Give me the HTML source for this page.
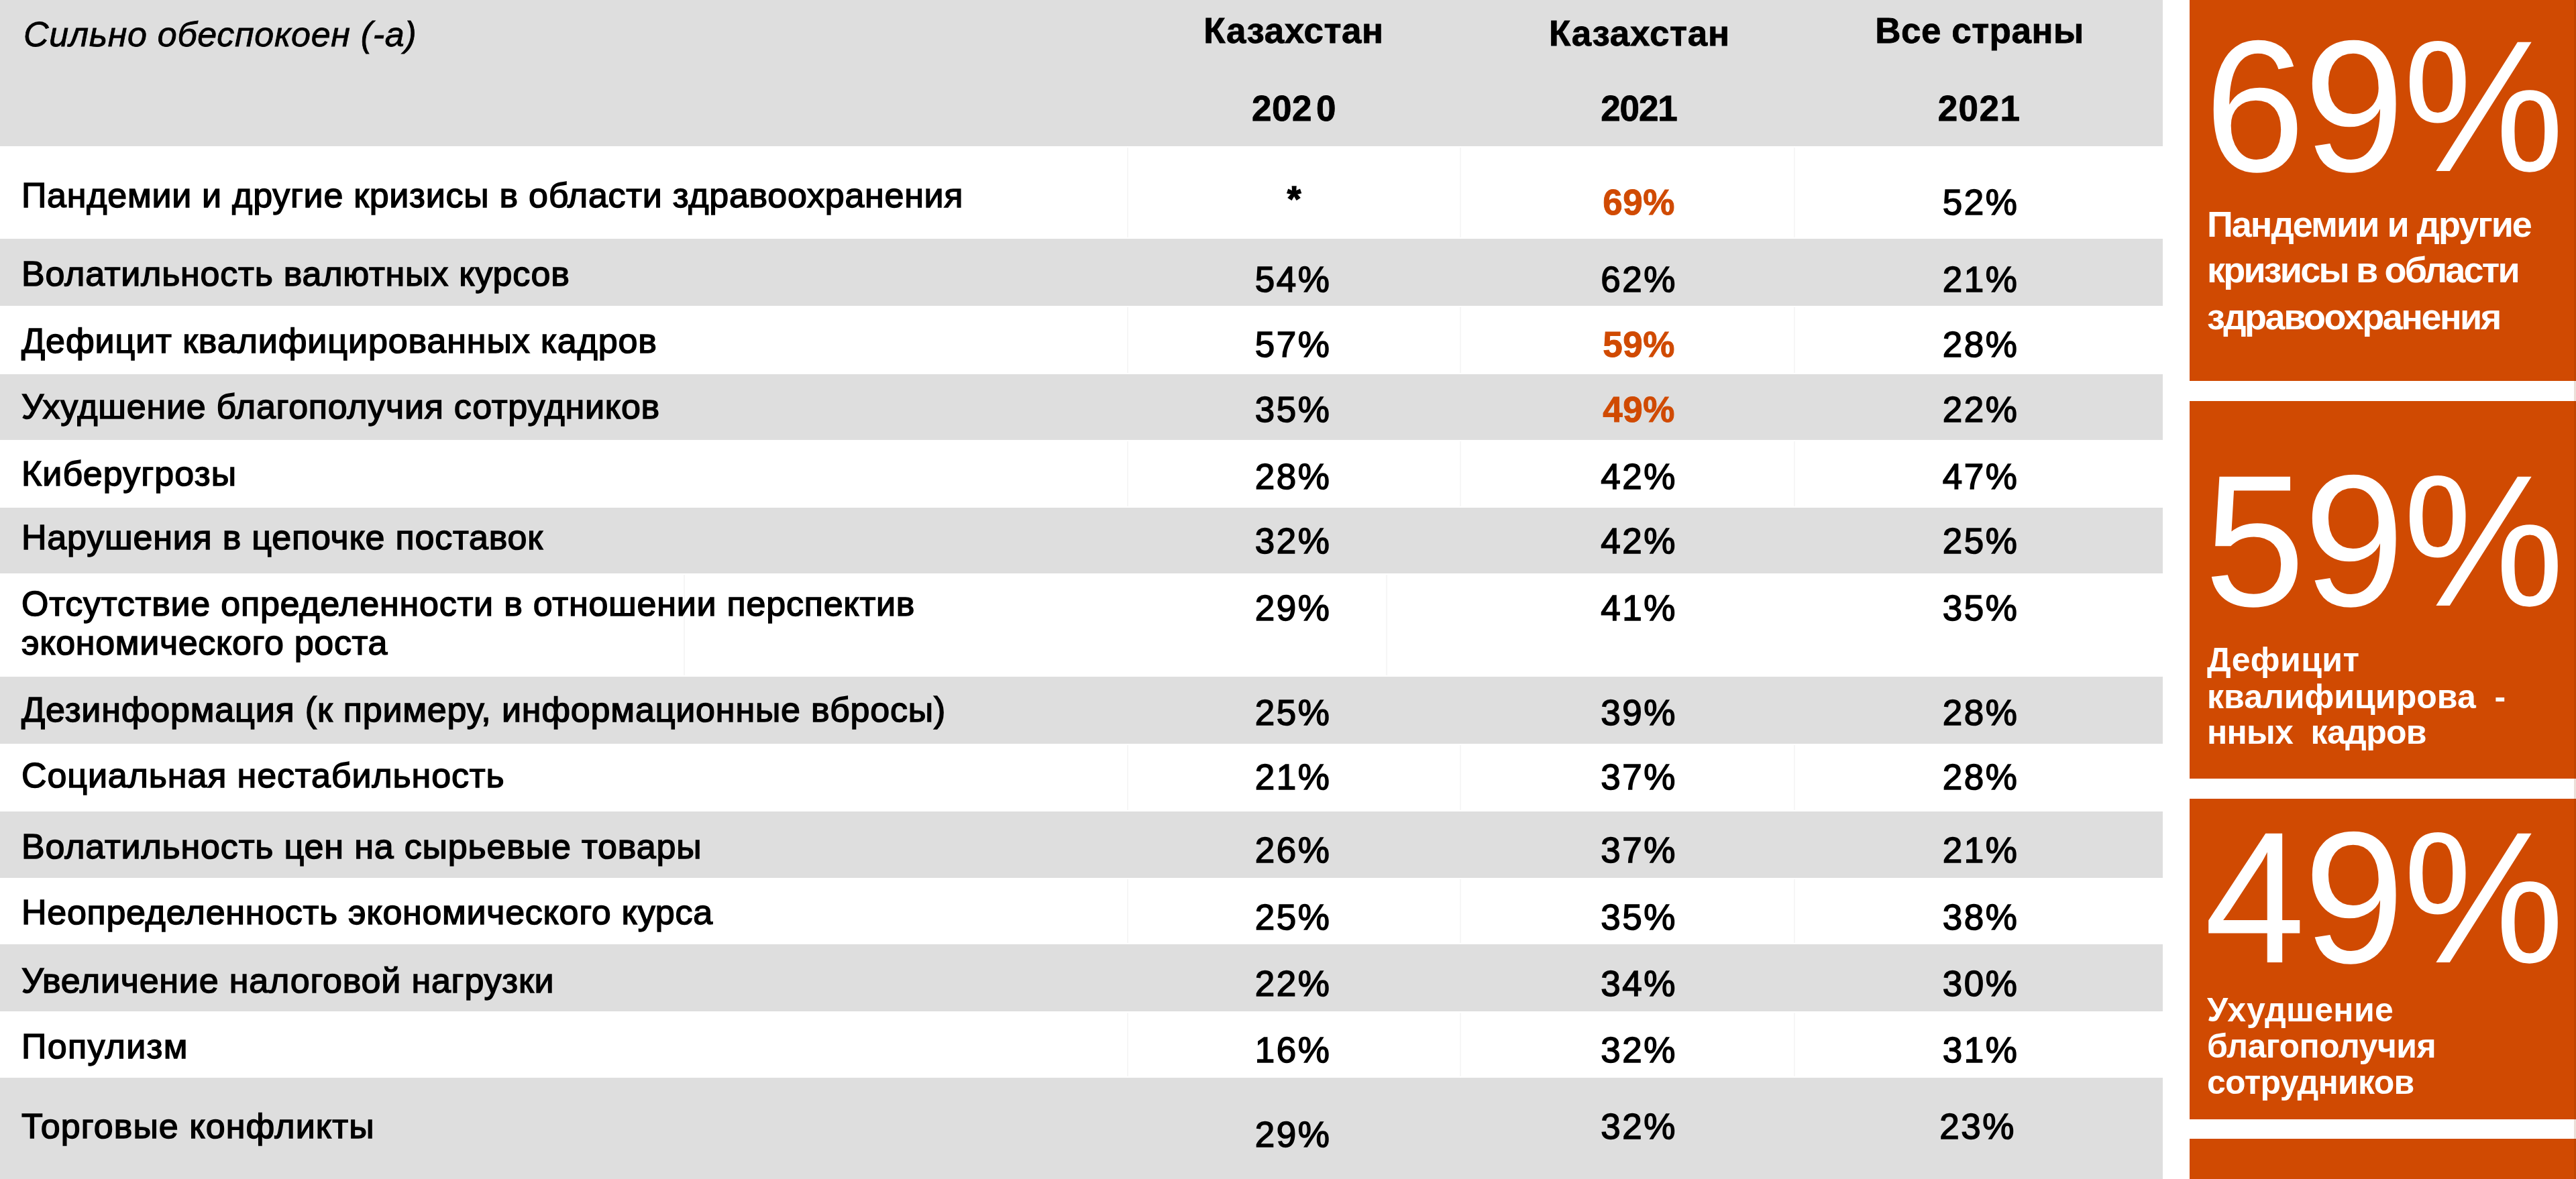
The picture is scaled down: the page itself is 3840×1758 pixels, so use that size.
<!DOCTYPE html>
<html lang="ru"><head><meta charset="utf-8"><title>Сильно обеспокоен (-а)</title>
<style>
html,body{margin:0;padding:0;background:#fff;}
body{width:3840px;height:1758px;overflow:hidden;position:relative;font-family:"Liberation Sans",Arial,"DejaVu Sans",sans-serif;color:#000;}
.t,.r{position:absolute;}
</style></head><body>
<div class="r" style="left:0px;top:0px;width:3224px;height:218px;background:#DEDEDE"></div>
<div class="r" style="left:0px;top:356px;width:3224px;height:100px;background:#DEDEDE"></div>
<div class="r" style="left:0px;top:558px;width:3224px;height:98px;background:#DEDEDE"></div>
<div class="r" style="left:0px;top:757px;width:3224px;height:98px;background:#DEDEDE"></div>
<div class="r" style="left:0px;top:1009px;width:3224px;height:100px;background:#DEDEDE"></div>
<div class="r" style="left:0px;top:1210px;width:3224px;height:99px;background:#DEDEDE"></div>
<div class="r" style="left:0px;top:1408px;width:3224px;height:100px;background:#DEDEDE"></div>
<div class="r" style="left:0px;top:1607px;width:3224px;height:151px;background:#DEDEDE"></div>
<div class="r" style="left:1680px;top:220px;width:2px;height:134px;background:#F6F6F6"></div>
<div class="r" style="left:2176px;top:220px;width:2px;height:134px;background:#F6F6F6"></div>
<div class="r" style="left:2674px;top:220px;width:2px;height:134px;background:#F6F6F6"></div>
<div class="r" style="left:1680px;top:458px;width:2px;height:98px;background:#F6F6F6"></div>
<div class="r" style="left:2176px;top:458px;width:2px;height:98px;background:#F6F6F6"></div>
<div class="r" style="left:2674px;top:458px;width:2px;height:98px;background:#F6F6F6"></div>
<div class="r" style="left:1680px;top:658px;width:2px;height:97px;background:#F6F6F6"></div>
<div class="r" style="left:2176px;top:658px;width:2px;height:97px;background:#F6F6F6"></div>
<div class="r" style="left:2674px;top:658px;width:2px;height:97px;background:#F6F6F6"></div>
<div class="r" style="left:1019px;top:857px;width:2px;height:150px;background:#F6F6F6"></div>
<div class="r" style="left:2066px;top:857px;width:2px;height:150px;background:#F6F6F6"></div>
<div class="r" style="left:1680px;top:1111px;width:2px;height:97px;background:#F6F6F6"></div>
<div class="r" style="left:2176px;top:1111px;width:2px;height:97px;background:#F6F6F6"></div>
<div class="r" style="left:2674px;top:1111px;width:2px;height:97px;background:#F6F6F6"></div>
<div class="r" style="left:1680px;top:1311px;width:2px;height:95px;background:#F6F6F6"></div>
<div class="r" style="left:2176px;top:1311px;width:2px;height:95px;background:#F6F6F6"></div>
<div class="r" style="left:2674px;top:1311px;width:2px;height:95px;background:#F6F6F6"></div>
<div class="r" style="left:1680px;top:1510px;width:2px;height:95px;background:#F6F6F6"></div>
<div class="r" style="left:2176px;top:1510px;width:2px;height:95px;background:#F6F6F6"></div>
<div class="r" style="left:2674px;top:1510px;width:2px;height:95px;background:#F6F6F6"></div>
<div class="t" style="left:35.00px;top:21.94px;font-size:52px;line-height:58.08px;font-weight:400;font-style:italic;color:#000;letter-spacing:0.670px;white-space:nowrap;-webkit-text-stroke:0.8px #000;">Сильно обеспокоен (-а)</div>
<div class="t" style="left:1328.50px;width:1200px;text-align:center;top:16.33px;font-size:53px;line-height:59.20px;font-weight:700;font-style:normal;color:#000;letter-spacing:0.550px;white-space:nowrap;-webkit-text-stroke:0.8px #000;">Казахстан</div>
<div class="t" style="left:1843.80px;width:1200px;text-align:center;top:20.13px;font-size:53px;line-height:59.20px;font-weight:700;font-style:normal;color:#000;letter-spacing:0.700px;white-space:nowrap;-webkit-text-stroke:0.8px #000;">Казахстан</div>
<div class="t" style="left:2351.00px;width:1200px;text-align:center;top:16.33px;font-size:53px;line-height:59.20px;font-weight:700;font-style:normal;color:#000;letter-spacing:0.500px;white-space:nowrap;-webkit-text-stroke:0.8px #000;">Все страны</div>
<div class="t" style="left:1329.00px;width:1200px;text-align:center;top:132.03px;font-size:53px;line-height:59.20px;font-weight:700;font-style:normal;color:#000;letter-spacing:0.500px;white-space:nowrap;-webkit-text-stroke:0.8px #000;">202<span style="margin-left:6px">0</span></div>
<div class="t" style="left:1843.00px;width:1200px;text-align:center;top:131.53px;font-size:53px;line-height:59.20px;font-weight:700;font-style:normal;color:#000;letter-spacing:-1.100px;white-space:nowrap;-webkit-text-stroke:0.8px #000;">2021</div>
<div class="t" style="left:2350.60px;width:1200px;text-align:center;top:132.34px;font-size:53px;line-height:59.20px;font-weight:700;font-style:normal;color:#000;letter-spacing:1.500px;white-space:nowrap;-webkit-text-stroke:0.8px #000;">2021</div>
<div class="t" style="left:32.00px;top:261.94px;font-size:52px;line-height:58.08px;font-weight:400;font-style:normal;color:#000;letter-spacing:0.728px;white-space:nowrap;-webkit-text-stroke:1.5px #000;">Пандемии и другие кризисы в области здравоохранения</div>
<div class="t" style="left:1329.00px;width:1200px;text-align:center;top:267.03px;font-size:53px;line-height:59.20px;font-weight:700;font-style:normal;color:#000;letter-spacing:0.000px;white-space:nowrap;-webkit-text-stroke:1.5px #000;">*</div>
<div class="t" style="left:1843.00px;width:1200px;text-align:center;top:272.03px;font-size:53px;line-height:59.20px;font-weight:700;font-style:normal;color:#D04A02;letter-spacing:0.500px;white-space:nowrap;-webkit-text-stroke:0.8999999999999999px #D04A02;">69%</div>
<div class="t" style="left:2352.50px;width:1200px;text-align:center;top:272.03px;font-size:53px;line-height:59.20px;font-weight:400;font-style:normal;color:#000;letter-spacing:2.500px;white-space:nowrap;-webkit-text-stroke:1.5px #000;">52%</div>
<div class="t" style="left:32.00px;top:378.94px;font-size:52px;line-height:58.08px;font-weight:400;font-style:normal;color:#000;letter-spacing:0.776px;white-space:nowrap;-webkit-text-stroke:1.5px #000;">Волатильность валютных курсов</div>
<div class="t" style="left:1327.50px;width:1200px;text-align:center;top:387.03px;font-size:53px;line-height:59.20px;font-weight:400;font-style:normal;color:#000;letter-spacing:2.500px;white-space:nowrap;-webkit-text-stroke:1.5px #000;">54%</div>
<div class="t" style="left:1843.00px;width:1200px;text-align:center;top:387.03px;font-size:53px;line-height:59.20px;font-weight:400;font-style:normal;color:#000;letter-spacing:2.500px;white-space:nowrap;-webkit-text-stroke:1.5px #000;">62%</div>
<div class="t" style="left:2352.50px;width:1200px;text-align:center;top:387.03px;font-size:53px;line-height:59.20px;font-weight:400;font-style:normal;color:#000;letter-spacing:2.500px;white-space:nowrap;-webkit-text-stroke:1.5px #000;">21%</div>
<div class="t" style="left:32.00px;top:479.44px;font-size:52px;line-height:58.08px;font-weight:400;font-style:normal;color:#000;letter-spacing:0.886px;white-space:nowrap;-webkit-text-stroke:1.5px #000;">Дефицит квалифицированных кадров</div>
<div class="t" style="left:1327.50px;width:1200px;text-align:center;top:484.03px;font-size:53px;line-height:59.20px;font-weight:400;font-style:normal;color:#000;letter-spacing:2.500px;white-space:nowrap;-webkit-text-stroke:1.5px #000;">57%</div>
<div class="t" style="left:1843.00px;width:1200px;text-align:center;top:484.03px;font-size:53px;line-height:59.20px;font-weight:700;font-style:normal;color:#D04A02;letter-spacing:0.500px;white-space:nowrap;-webkit-text-stroke:0.8999999999999999px #D04A02;">59%</div>
<div class="t" style="left:2352.50px;width:1200px;text-align:center;top:484.03px;font-size:53px;line-height:59.20px;font-weight:400;font-style:normal;color:#000;letter-spacing:2.500px;white-space:nowrap;-webkit-text-stroke:1.5px #000;">28%</div>
<div class="t" style="left:32.00px;top:576.94px;font-size:52px;line-height:58.08px;font-weight:400;font-style:normal;color:#000;letter-spacing:0.753px;white-space:nowrap;-webkit-text-stroke:1.5px #000;">Ухудшение благополучия сотрудников</div>
<div class="t" style="left:1327.50px;width:1200px;text-align:center;top:580.53px;font-size:53px;line-height:59.20px;font-weight:400;font-style:normal;color:#000;letter-spacing:2.500px;white-space:nowrap;-webkit-text-stroke:1.5px #000;">35%</div>
<div class="t" style="left:1843.00px;width:1200px;text-align:center;top:580.53px;font-size:53px;line-height:59.20px;font-weight:700;font-style:normal;color:#D04A02;letter-spacing:0.500px;white-space:nowrap;-webkit-text-stroke:0.8999999999999999px #D04A02;">49%</div>
<div class="t" style="left:2352.50px;width:1200px;text-align:center;top:580.53px;font-size:53px;line-height:59.20px;font-weight:400;font-style:normal;color:#000;letter-spacing:2.500px;white-space:nowrap;-webkit-text-stroke:1.5px #000;">22%</div>
<div class="t" style="left:32.00px;top:676.94px;font-size:52px;line-height:58.08px;font-weight:400;font-style:normal;color:#000;letter-spacing:1.080px;white-space:nowrap;-webkit-text-stroke:1.5px #000;">Киберугрозы</div>
<div class="t" style="left:1327.50px;width:1200px;text-align:center;top:681.03px;font-size:53px;line-height:59.20px;font-weight:400;font-style:normal;color:#000;letter-spacing:2.500px;white-space:nowrap;-webkit-text-stroke:1.5px #000;">28%</div>
<div class="t" style="left:1843.00px;width:1200px;text-align:center;top:681.03px;font-size:53px;line-height:59.20px;font-weight:400;font-style:normal;color:#000;letter-spacing:2.500px;white-space:nowrap;-webkit-text-stroke:1.5px #000;">42%</div>
<div class="t" style="left:2352.50px;width:1200px;text-align:center;top:681.03px;font-size:53px;line-height:59.20px;font-weight:400;font-style:normal;color:#000;letter-spacing:2.500px;white-space:nowrap;-webkit-text-stroke:1.5px #000;">47%</div>
<div class="t" style="left:32.00px;top:771.94px;font-size:52px;line-height:58.08px;font-weight:400;font-style:normal;color:#000;letter-spacing:0.787px;white-space:nowrap;-webkit-text-stroke:1.5px #000;">Нарушения в цепочке поставок</div>
<div class="t" style="left:1327.50px;width:1200px;text-align:center;top:776.83px;font-size:53px;line-height:59.20px;font-weight:400;font-style:normal;color:#000;letter-spacing:2.500px;white-space:nowrap;-webkit-text-stroke:1.5px #000;">32%</div>
<div class="t" style="left:1843.00px;width:1200px;text-align:center;top:776.83px;font-size:53px;line-height:59.20px;font-weight:400;font-style:normal;color:#000;letter-spacing:2.500px;white-space:nowrap;-webkit-text-stroke:1.5px #000;">42%</div>
<div class="t" style="left:2352.50px;width:1200px;text-align:center;top:776.83px;font-size:53px;line-height:59.20px;font-weight:400;font-style:normal;color:#000;letter-spacing:2.500px;white-space:nowrap;-webkit-text-stroke:1.5px #000;">25%</div>
<div class="t" style="left:32.00px;top:870.94px;font-size:52px;line-height:58.08px;font-weight:400;font-style:normal;color:#000;letter-spacing:0.774px;white-space:nowrap;-webkit-text-stroke:1.5px #000;">Отсутствие определенности в отношении перспектив</div>
<div class="t" style="left:32.00px;top:928.94px;font-size:52px;line-height:58.08px;font-weight:400;font-style:normal;color:#000;letter-spacing:0.669px;white-space:nowrap;-webkit-text-stroke:1.5px #000;">экономического роста</div>
<div class="t" style="left:1327.50px;width:1200px;text-align:center;top:876.53px;font-size:53px;line-height:59.20px;font-weight:400;font-style:normal;color:#000;letter-spacing:2.500px;white-space:nowrap;-webkit-text-stroke:1.5px #000;">29%</div>
<div class="t" style="left:1843.00px;width:1200px;text-align:center;top:876.53px;font-size:53px;line-height:59.20px;font-weight:400;font-style:normal;color:#000;letter-spacing:2.500px;white-space:nowrap;-webkit-text-stroke:1.5px #000;">41%</div>
<div class="t" style="left:2352.50px;width:1200px;text-align:center;top:876.53px;font-size:53px;line-height:59.20px;font-weight:400;font-style:normal;color:#000;letter-spacing:2.500px;white-space:nowrap;-webkit-text-stroke:1.5px #000;">35%</div>
<div class="t" style="left:32.00px;top:1029.44px;font-size:52px;line-height:58.08px;font-weight:400;font-style:normal;color:#000;letter-spacing:0.816px;white-space:nowrap;-webkit-text-stroke:1.5px #000;">Дезинформация (к примеру, информационные вбросы)</div>
<div class="t" style="left:1327.50px;width:1200px;text-align:center;top:1033.04px;font-size:53px;line-height:59.20px;font-weight:400;font-style:normal;color:#000;letter-spacing:2.500px;white-space:nowrap;-webkit-text-stroke:1.5px #000;">25%</div>
<div class="t" style="left:1843.00px;width:1200px;text-align:center;top:1033.04px;font-size:53px;line-height:59.20px;font-weight:400;font-style:normal;color:#000;letter-spacing:2.500px;white-space:nowrap;-webkit-text-stroke:1.5px #000;">39%</div>
<div class="t" style="left:2352.50px;width:1200px;text-align:center;top:1033.04px;font-size:53px;line-height:59.20px;font-weight:400;font-style:normal;color:#000;letter-spacing:2.500px;white-space:nowrap;-webkit-text-stroke:1.5px #000;">28%</div>
<div class="t" style="left:32.00px;top:1127.44px;font-size:52px;line-height:58.08px;font-weight:400;font-style:normal;color:#000;letter-spacing:0.880px;white-space:nowrap;-webkit-text-stroke:1.5px #000;">Социальная нестабильность</div>
<div class="t" style="left:1327.50px;width:1200px;text-align:center;top:1129.44px;font-size:53px;line-height:59.20px;font-weight:400;font-style:normal;color:#000;letter-spacing:2.500px;white-space:nowrap;-webkit-text-stroke:1.5px #000;">21%</div>
<div class="t" style="left:1843.00px;width:1200px;text-align:center;top:1129.44px;font-size:53px;line-height:59.20px;font-weight:400;font-style:normal;color:#000;letter-spacing:2.500px;white-space:nowrap;-webkit-text-stroke:1.5px #000;">37%</div>
<div class="t" style="left:2352.50px;width:1200px;text-align:center;top:1129.44px;font-size:53px;line-height:59.20px;font-weight:400;font-style:normal;color:#000;letter-spacing:2.500px;white-space:nowrap;-webkit-text-stroke:1.5px #000;">28%</div>
<div class="t" style="left:32.00px;top:1232.94px;font-size:52px;line-height:58.08px;font-weight:400;font-style:normal;color:#000;letter-spacing:0.834px;white-space:nowrap;-webkit-text-stroke:1.5px #000;">Волатильность цен на сырьевые товары</div>
<div class="t" style="left:1327.50px;width:1200px;text-align:center;top:1238.04px;font-size:53px;line-height:59.20px;font-weight:400;font-style:normal;color:#000;letter-spacing:2.500px;white-space:nowrap;-webkit-text-stroke:1.5px #000;">26%</div>
<div class="t" style="left:1843.00px;width:1200px;text-align:center;top:1238.04px;font-size:53px;line-height:59.20px;font-weight:400;font-style:normal;color:#000;letter-spacing:2.500px;white-space:nowrap;-webkit-text-stroke:1.5px #000;">37%</div>
<div class="t" style="left:2352.50px;width:1200px;text-align:center;top:1238.04px;font-size:53px;line-height:59.20px;font-weight:400;font-style:normal;color:#000;letter-spacing:2.500px;white-space:nowrap;-webkit-text-stroke:1.5px #000;">21%</div>
<div class="t" style="left:32.00px;top:1330.94px;font-size:52px;line-height:58.08px;font-weight:400;font-style:normal;color:#000;letter-spacing:0.724px;white-space:nowrap;-webkit-text-stroke:1.5px #000;">Неопределенность экономического курса</div>
<div class="t" style="left:1327.50px;width:1200px;text-align:center;top:1337.63px;font-size:53px;line-height:59.20px;font-weight:400;font-style:normal;color:#000;letter-spacing:2.500px;white-space:nowrap;-webkit-text-stroke:1.5px #000;">25%</div>
<div class="t" style="left:1843.00px;width:1200px;text-align:center;top:1337.63px;font-size:53px;line-height:59.20px;font-weight:400;font-style:normal;color:#000;letter-spacing:2.500px;white-space:nowrap;-webkit-text-stroke:1.5px #000;">35%</div>
<div class="t" style="left:2352.50px;width:1200px;text-align:center;top:1337.63px;font-size:53px;line-height:59.20px;font-weight:400;font-style:normal;color:#000;letter-spacing:2.500px;white-space:nowrap;-webkit-text-stroke:1.5px #000;">38%</div>
<div class="t" style="left:32.00px;top:1432.94px;font-size:52px;line-height:58.08px;font-weight:400;font-style:normal;color:#000;letter-spacing:0.801px;white-space:nowrap;-webkit-text-stroke:1.5px #000;">Увеличение налоговой нагрузки</div>
<div class="t" style="left:1327.50px;width:1200px;text-align:center;top:1437.04px;font-size:53px;line-height:59.20px;font-weight:400;font-style:normal;color:#000;letter-spacing:2.500px;white-space:nowrap;-webkit-text-stroke:1.5px #000;">22%</div>
<div class="t" style="left:1843.00px;width:1200px;text-align:center;top:1437.04px;font-size:53px;line-height:59.20px;font-weight:400;font-style:normal;color:#000;letter-spacing:2.500px;white-space:nowrap;-webkit-text-stroke:1.5px #000;">34%</div>
<div class="t" style="left:2352.50px;width:1200px;text-align:center;top:1437.04px;font-size:53px;line-height:59.20px;font-weight:400;font-style:normal;color:#000;letter-spacing:2.500px;white-space:nowrap;-webkit-text-stroke:1.5px #000;">30%</div>
<div class="t" style="left:32.00px;top:1530.94px;font-size:52px;line-height:58.08px;font-weight:400;font-style:normal;color:#000;letter-spacing:1.309px;white-space:nowrap;-webkit-text-stroke:1.5px #000;">Популизм</div>
<div class="t" style="left:1327.50px;width:1200px;text-align:center;top:1536.44px;font-size:53px;line-height:59.20px;font-weight:400;font-style:normal;color:#000;letter-spacing:2.500px;white-space:nowrap;-webkit-text-stroke:1.5px #000;">16%</div>
<div class="t" style="left:1843.00px;width:1200px;text-align:center;top:1536.44px;font-size:53px;line-height:59.20px;font-weight:400;font-style:normal;color:#000;letter-spacing:2.500px;white-space:nowrap;-webkit-text-stroke:1.5px #000;">32%</div>
<div class="t" style="left:2352.50px;width:1200px;text-align:center;top:1536.44px;font-size:53px;line-height:59.20px;font-weight:400;font-style:normal;color:#000;letter-spacing:2.500px;white-space:nowrap;-webkit-text-stroke:1.5px #000;">31%</div>
<div class="t" style="left:32.00px;top:1649.94px;font-size:52px;line-height:58.08px;font-weight:400;font-style:normal;color:#000;letter-spacing:1.080px;white-space:nowrap;-webkit-text-stroke:1.5px #000;">Торговые конфликты</div>
<div class="t" style="left:1327.50px;width:1200px;text-align:center;top:1662.04px;font-size:53px;line-height:59.20px;font-weight:400;font-style:normal;color:#000;letter-spacing:2.500px;white-space:nowrap;-webkit-text-stroke:1.5px #000;">29%</div>
<div class="t" style="left:1843.00px;width:1200px;text-align:center;top:1650.04px;font-size:53px;line-height:59.20px;font-weight:400;font-style:normal;color:#000;letter-spacing:2.500px;white-space:nowrap;-webkit-text-stroke:1.5px #000;">32%</div>
<div class="t" style="left:2348.00px;width:1200px;text-align:center;top:1650.04px;font-size:53px;line-height:59.20px;font-weight:400;font-style:normal;color:#000;letter-spacing:2.500px;white-space:nowrap;-webkit-text-stroke:1.5px #000;">23%</div>
<div class="r" style="left:3264px;top:0px;width:576px;height:568px;background:#D04A02"></div>
<div class="r" style="left:3264px;top:598px;width:576px;height:563px;background:#D04A02"></div>
<div class="r" style="left:3264px;top:1191px;width:576px;height:478px;background:#D04A02"></div>
<div class="r" style="left:3264px;top:1698px;width:576px;height:60px;background:#D04A02"></div>
<div class="r" style="left:3837px;top:0px;width:3px;height:1758px;background:rgba(120,40,0,0.15)"></div>
<div class="t" style="left:3286.00px;top:10.65px;font-size:270px;line-height:301.59px;font-weight:400;font-style:normal;color:#fff;letter-spacing:-2.000px;white-space:nowrap;transform:scaleY(1.035);transform-origin:0 244.3px;">69%</div>
<div class="t" style="left:3286.00px;top:659.15px;font-size:270px;line-height:301.59px;font-weight:400;font-style:normal;color:#fff;letter-spacing:-2.000px;white-space:nowrap;transform:scaleY(1.035);transform-origin:0 244.3px;">59%</div>
<div class="t" style="left:3286.00px;top:1190.65px;font-size:270px;line-height:301.59px;font-weight:400;font-style:normal;color:#fff;letter-spacing:-2.000px;white-space:nowrap;transform:scaleY(1.035);transform-origin:0 244.3px;">49%</div>
<div class="t" style="left:3290.00px;top:303.73px;font-size:54px;line-height:60.32px;font-weight:700;font-style:normal;color:#fff;letter-spacing:-2.000px;white-space:nowrap;">Пандемии и другие</div>
<div class="t" style="left:3290.00px;top:372.13px;font-size:54px;line-height:60.32px;font-weight:700;font-style:normal;color:#fff;letter-spacing:-2.810px;white-space:nowrap;">кризисы в области</div>
<div class="t" style="left:3290.00px;top:442.13px;font-size:54px;line-height:60.32px;font-weight:700;font-style:normal;color:#fff;letter-spacing:-2.500px;white-space:nowrap;">здравоохранения</div>
<div class="t" style="left:3290.00px;top:956.75px;font-size:50px;line-height:55.85px;font-weight:700;font-style:normal;color:#fff;letter-spacing:0.400px;white-space:nowrap;">Дефицит</div>
<div class="t" style="left:3290.00px;top:1011.75px;font-size:50px;line-height:55.85px;font-weight:700;font-style:normal;color:#fff;letter-spacing:0.030px;white-space:nowrap;">квалифицирова&nbsp; -</div>
<div class="t" style="left:3290.00px;top:1064.75px;font-size:50px;line-height:55.85px;font-weight:700;font-style:normal;color:#fff;letter-spacing:-0.680px;white-space:nowrap;">нных&nbsp; кадров</div>
<div class="t" style="left:3290.00px;top:1478.75px;font-size:50px;line-height:55.85px;font-weight:700;font-style:normal;color:#fff;letter-spacing:0.375px;white-space:nowrap;">Ухудшение</div>
<div class="t" style="left:3290.00px;top:1532.75px;font-size:50px;line-height:55.85px;font-weight:700;font-style:normal;color:#fff;letter-spacing:-0.500px;white-space:nowrap;">благополучия</div>
<div class="t" style="left:3290.00px;top:1587.25px;font-size:50px;line-height:55.85px;font-weight:700;font-style:normal;color:#fff;letter-spacing:-0.700px;white-space:nowrap;">сотрудников</div>
</body></html>
